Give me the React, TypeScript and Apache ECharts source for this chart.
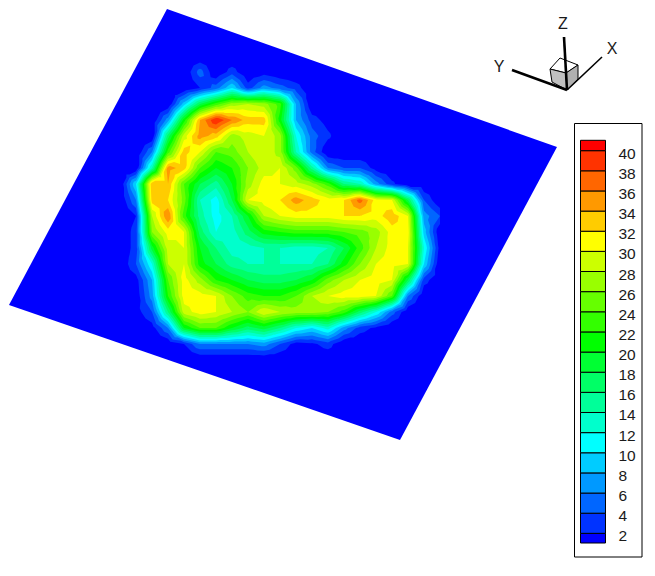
import React, { useEffect, useRef } from "react";
import * as echarts from "echarts";

const W = 655;
const H = 576;

const plateCorners = [[167, 9], [557, 147], [400, 440], [9, 305]];
const gridXs = [120, 136, 152, 168, 184, 200, 216, 232, 248, 264, 280, 296, 312, 328, 344, 360, 376, 392, 408, 424, 440];
const gridYs = [56, 72, 88, 104, 120, 136, 152, 168, 184, 200, 216, 232, 248, 264, 280, 296, 312, 328, 344, 360];
const fieldValues = [
  [0,0,0,0,0,0,0,0,0,0,0,0,0,0,0,0,0,0,0,0,0],
  [0,0,0,0,0,5,0,3,0,1,0,0,0,0,0,0,0,0,0,0,0],
  [0,0,0,0,0,2,5,10,3,7,5,3,0,0,0,0,0,0,0,0,0],
  [0,0,0,0,9,18,23,27,28,27,23,8,0,0,0,0,0,0,0,0,0],
  [0,0,0,7,21,34,40,36,33,33,21,8,3,1,0,0,0,0,0,0,0],
  [0,0,0,17,29,35,33,27,29,30,27,12,5,2.5,0,0,0,0,0,0,0],
  [0,0,6,23,33,30,24,25,28,30,27,14,5,0,0,0,0,0,0,0,0],
  [0,0,14,35,33,24,20,22,26,29,30,25,15,6,4,4,1,0,0,0,0],
  [0,10,34,34,24,18,15,20,27,31,30,29,27,23,16,14,7,2.5,0,0,0],
  [0,6,33,32,25,14,11,18,30,31,32,35,33,31,32,37,31,30,18,4,0],
  [0,2,28,36,23,15,11,14,20,28,30,31,31,31,32,32,31,33.5,30,7,4],
  [0,3,26,31,30,17,12,13,17,21,22,23,23,23,24,25,27,31,31,9,0],
  [0,3,19,29,30,20,16,13,13,14,14,13,13,14,18,23,28,31,30,12,1],
  [0,4,12,28,30,21,18,15,14,14,14,14,14,16,21,26,30,31,30,10,0],
  [0,1,8,24,31,27,22,20,18,17,17,18,20,25,28,30,31,30,18,3,0],
  [0,0.5,7,22,31,31,30,26,23,22,22,24,28,30,31,31,30,24,6,0,0],
  [0,1,4,16,29,31,30,28,26,30,28,27,27,26,23,17,12,5,0,0,0],
  [0,0,1,6,20,24,24,20,17,19,16,12,10,13,7,3,1.5,0,0,0,0],
  [0,0,0,0,2,6,6,6,6,7,4,1,1.5,3,0,0,0,0,0,0,0],
  [0,0,0,0,0,0,0,0,0,0,0,0,0,0,0,0,0,0,0,0,0],
];

const contourLevels = [2,4,6,8,10,12,14,16,18,20,22,24,26,28,30,32,34,36,38,40];
const baseColor = "#0000ff";
const bandColors = [
  "#0033ff","#0066ff","#0099ff","#00ccff","#00ffff","#00ffcc","#00ff99","#00ff66","#00ff33","#00ff00",
  "#33ff00","#66ff00","#99ff00","#ccff00","#ffff00","#ffcc00","#ff9900","#ff6600","#ff3300","#ff0000",
];
const legendTickLabels = [2,4,6,8,10,12,14,16,18,20,22,24,26,28,30,32,34,36,38,40];
const legendMin = 1.04;
const legendMax = 41.03;

const triadOrigin = [567, 90];
const triadAxes = [
  { name: "X", end: [602, 57], width: 1.6, label: [612, 48] },
  { name: "Y", end: [512, 70], width: 2.6, label: [499, 66] },
  { name: "Z", end: [564, 37], width: 2.6, label: [563, 23] },
];

type P = [number, number, number];

function clipTriangle(tri: P[], level: number): P[] {
  const out: P[] = [];
  for (let i = 0; i < 3; i++) {
    const a = tri[i];
    const b = tri[(i + 1) % 3];
    const ina = a[2] >= level;
    const inb = b[2] >= level;
    if (ina) out.push(a);
    if (ina !== inb) {
      const t = (level - a[2]) / (b[2] - a[2]);
      out.push([a[0] + (b[0] - a[0]) * t, a[1] + (b[1] - a[1]) * t, level]);
    }
  }
  return out;
}

function contourPath(level: number, toPixel: (x: number, y: number) => number[]): string {
  let d = "";
  for (let j = 0; j < gridYs.length - 1; j++) {
    for (let i = 0; i < gridXs.length - 1; i++) {
      const x0 = gridXs[i], x1 = gridXs[i + 1], y0 = gridYs[j], y1 = gridYs[j + 1];
      const v00 = fieldValues[j][i], v10 = fieldValues[j][i + 1];
      const v01 = fieldValues[j + 1][i], v11 = fieldValues[j + 1][i + 1];
      if (Math.max(v00, v10, v01, v11) < level) continue;
      const c: P = [(x0 + x1) / 2, (y0 + y1) / 2, (v00 + v10 + v01 + v11) / 4];
      const a: P = [x0, y0, v00], b: P = [x1, y0, v10], e: P = [x1, y1, v11], f: P = [x0, y1, v01];
      const tris: P[][] = [[a, b, c], [b, e, c], [e, f, c], [f, a, c]];
      for (const t of tris) {
        const poly = clipTriangle(t, level);
        if (poly.length < 3) continue;
        poly.forEach((p, k) => {
          const q = toPixel(p[0], p[1]);
          d += (k === 0 ? "M" : "L") + q[0].toFixed(2) + " " + q[1].toFixed(2);
        });
        d += "Z";
      }
    }
  }
  return d;
}

export default function App() {
  const ref = useRef<HTMLDivElement>(null);
  useEffect(() => {
    const chart = echarts.init(ref.current!, null, { renderer: "svg" });
    const labelStyle = { fontFamily: "Liberation Sans", fontSize: 16, fill: "#1a1a1a" };
    chart.setOption({
      animation: false,
      backgroundColor: "#ffffff",
      grid: [
        { left: 0, top: 0, width: W, height: H, show: false },
        { left: 580.5, top: 140.3, width: 25, height: 402.7, show: false },
      ],
      xAxis: [
        { gridIndex: 0, type: "value", min: 0, max: W, show: false },
        { gridIndex: 1, type: "value", min: 0, max: 1, show: false },
      ],
      yAxis: [
        { gridIndex: 0, type: "value", min: 0, max: H, inverse: true, show: false },
        {
          gridIndex: 1,
          type: "value",
          min: legendMin,
          max: legendMax,
          position: "right",
          z: 10,
          axisLine: { show: false },
          axisTick: { show: false },
          splitLine: { show: false },
          axisLabel: {
            show: true,
            customValues: legendTickLabels,
            margin: 13,
            fontFamily: "Liberation Sans",
            fontSize: 15.5,
            color: "#1a1a1a",
            verticalAlign: "top",
            lineHeight: 5,
          },
        },
      ],
      graphic: [
        {
          type: "rect",
          z: -1,
          shape: { x: 574.5, y: 123.5, width: 67.5, height: 433.5 },
          style: { fill: "#ffffff", stroke: "#000000", lineWidth: 1 },
        },
        {
          type: "polygon",
          z: 20,
          shape: { points: [[560, 58], [578, 65], [566, 73], [550, 69]] },
          style: { fill: "#ffffff", stroke: "#000000", lineWidth: 1 },
        },
        {
          type: "polygon",
          z: 20,
          shape: { points: [[550, 69], [566, 73], [567, 90], [552, 82]] },
          style: { fill: "#c0c0c0", stroke: "#000000", lineWidth: 1 },
        },
        {
          type: "polygon",
          z: 20,
          shape: { points: [[566, 73], [578, 65], [578, 79], [567, 90]] },
          style: { fill: "#b0b0b0", stroke: "#000000", lineWidth: 1 },
        },
        ...triadAxes.map((a) => ({
          type: "line",
          z: 21,
          shape: { x1: triadOrigin[0], y1: triadOrigin[1], x2: a.end[0], y2: a.end[1] },
          style: { stroke: "#000000", lineWidth: a.width },
        })),
        ...triadAxes.map((a) => ({
          type: "text",
          z: 21,
          x: a.label[0],
          y: a.label[1],
          style: {
            text: a.name,
            ...labelStyle,
            align: "center",
            verticalAlign: "middle",
          },
        })),
      ],
      series: [
        {
          type: "custom",
          coordinateSystem: "cartesian2d",
          xAxisIndex: 0,
          yAxisIndex: 0,
          silent: true,
          z: 2,
          clip: false,
          data: [[0]],
          renderItem: (_p: any, api: any) => ({
            type: "polygon",
            shape: { points: plateCorners.map((c) => api.coord(c)) },
            style: { fill: baseColor },
          }),
        },
        {
          type: "custom",
          coordinateSystem: "cartesian2d",
          xAxisIndex: 0,
          yAxisIndex: 0,
          silent: true,
          z: 3,
          clip: false,
          data: contourLevels.map((l, i) => [l, i]),
          renderItem: (_p: any, api: any) => {
            const level = api.value(0);
            const idx = api.value(1);
            const d = contourPath(level, (x, y) => api.coord([x, y]));
            if (!d) return { type: "group", children: [] };
            return {
              type: "path",
              shape: { pathData: d },
              style: { fill: bandColors[idx] },
              z2: idx,
            };
          },
        },
        {
          type: "custom",
          coordinateSystem: "cartesian2d",
          xAxisIndex: 1,
          yAxisIndex: 1,
          silent: true,
          z: 4,
          clip: false,
          data: [legendMin, ...contourLevels].map((l, i) => [
            l,
            i < contourLevels.length ? contourLevels[i] : legendMax,
            i,
          ]),
          encode: { y: [0, 1] },
          renderItem: (_p: any, api: any) => {
            const lo = api.coord([0, api.value(0)]);
            const hi = api.coord([1, api.value(1)]);
            const idx = api.value(2);
            return {
              type: "rect",
              shape: { x: lo[0], y: hi[1], width: hi[0] - lo[0], height: lo[1] - hi[1] },
              style: {
                fill: idx === 0 ? baseColor : bandColors[idx - 1],
                stroke: "#000000",
                lineWidth: 1,
              },
            };
          },
        },
      ],
    });
    return () => chart.dispose();
  }, []);
  return <div ref={ref} style={{ position: "absolute", left: 0, top: 0, width: W, height: H }} />;
}
